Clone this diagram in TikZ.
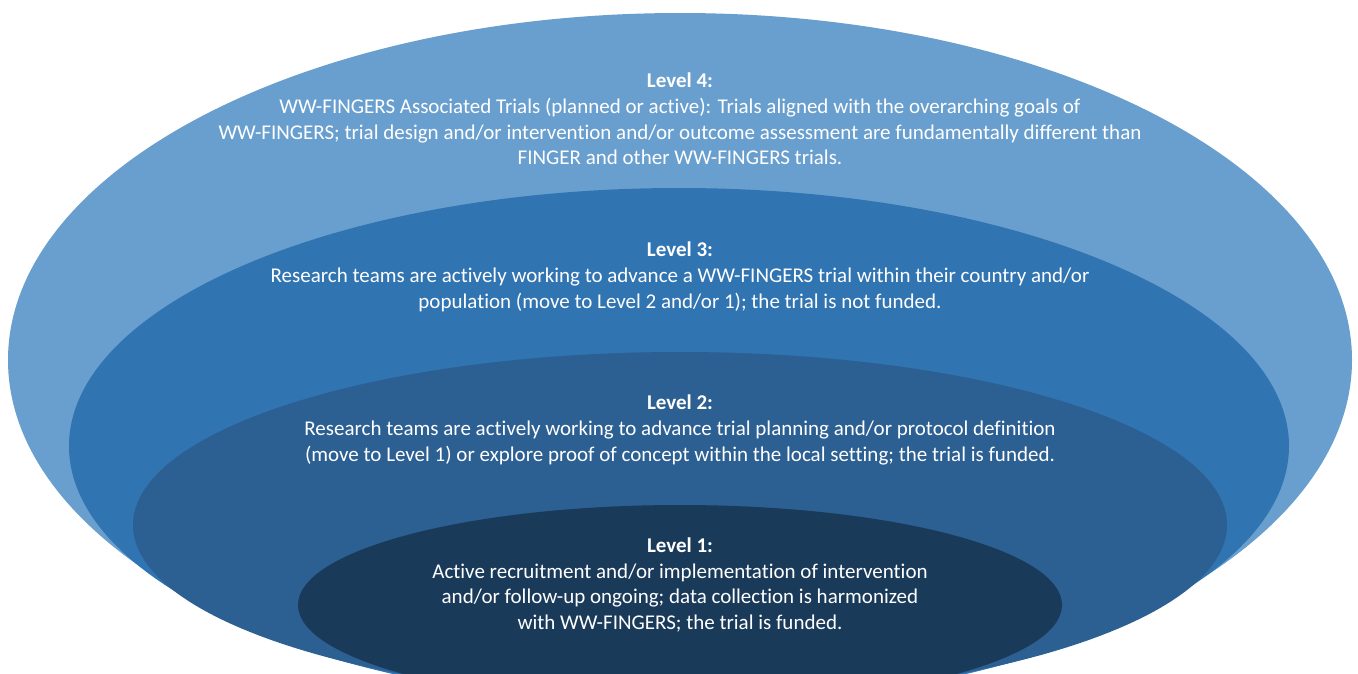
\documentclass[tikz,border=0pt]{standalone}
\usepackage{fontspec}
\setmainfont{Carlito}[Ligatures=NoCommon]
\definecolor{lvfour}{HTML}{699FCE}
\definecolor{lvthree}{HTML}{3174B2}
\definecolor{lvtwo}{HTML}{2C5F92}
\definecolor{lvone}{HTML}{1A3A5A}
\tikzset{
  lvtext/.style={text=white, align=center, inner sep=0pt, font=\fontsize{21}{25.8}\selectfont}
}
\begin{document}
\begin{tikzpicture}[x=1pt,y=-1pt]
\useasboundingbox (0,0) rectangle (1358,673);
\clip (0,0) rectangle (1358,673);
\fill[white] (0,0) rectangle (1358,673);
\fill[lvfour]  (680,360) ellipse [x radius=672pt, y radius=347pt];
\fill[lvthree] (679,446) ellipse [x radius=610pt, y radius=258pt];
\fill[lvtwo]   (680,525) ellipse [x radius=547pt, y radius=173pt];
\fill[lvone]   (680,605) ellipse [x radius=382pt, y radius=100pt];
\node[lvtext] (t4) at (680,119) {\textbf{Level 4:}\\WW-FINGERS Associated Trials (planned or active): Trials aligned with the overarching goals of\\WW-FINGERS; trial design and/or intervention and/or outcome assessment are fundamentally different than\\FINGER and other WW-FINGERS trials.};
\node[lvtext] (t3) at (680,277) {\textbf{Level 3:}\\Research teams are actively working to advance a WW-FINGERS trial within their country and/or\\population (move to Level 2 and/or 1); the trial is not funded.};
\node[lvtext] (t2) at (680,430) {\textbf{Level 2:}\\Research teams are actively working to advance trial planning and/or protocol definition\\(move to Level 1) or explore proof of concept within the local setting; the trial is funded.};
\node[lvtext] (t1) at (680,585) {\textbf{Level 1:}\\Active recruitment and/or implementation of intervention\\and/or follow-up ongoing; data collection is harmonized\\with WW-FINGERS; the trial is funded.};
\end{tikzpicture}
\end{document}
